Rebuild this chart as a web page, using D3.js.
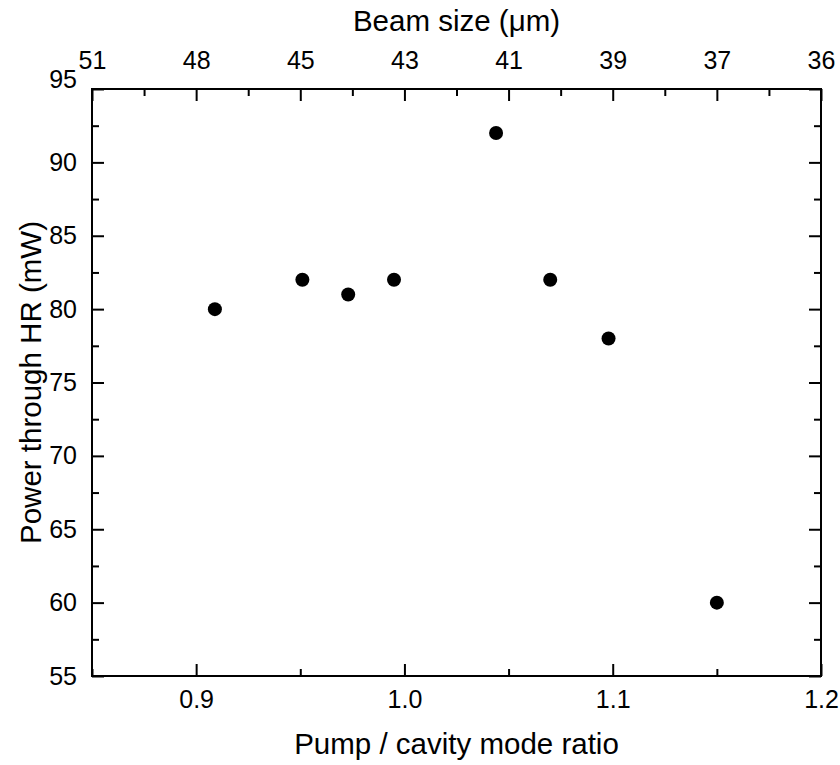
<!DOCTYPE html>
<html>
<head>
<meta charset="utf-8">
<script src="https://cdn.jsdelivr.net/npm/d3@7"></script>
<style>
  body { margin: 0; background: #fff; }
  svg text { font-family: "Liberation Sans", Arial, sans-serif; fill: #000; }
</style>
</head>
<body>
<svg id="chart"></svg>
<script>
// data
const ratio = [0.909, 0.951, 0.973, 0.995, 1.044, 1.070, 1.098, 1.150]
const power = [80, 82, 81, 82, 92, 82, 78, 60]

// bottom axis
const ratioTicks = [0.9, 1.0, 1.1, 1.2]
const ratioMinor = [0.85, 0.95, 1.05, 1.15]
// top axis (beam size, placed at ratio positions)
const beamPos = [0.85, 0.90, 0.95, 1.00, 1.05, 1.10, 1.15, 1.20]
const beamLabels = ["51", "48", "45", "43", "41", "39", "37", "36"]
const beamMinor = [0.875, 0.925, 0.975, 1.025, 1.075, 1.125, 1.175]
// left axis
const powerTicks = [55, 60, 65, 70, 75, 80, 85, 90, 95]
const powerMinor = [57.5, 62.5, 67.5, 72.5, 77.5, 82.5, 87.5, 92.5]

const W = 840, H = 765
const pL = 92, pR = 821, pT = 89, pB = 676

const svg = d3.select("#chart").attr("width", W).attr("height", H)

const x = d3.scaleLinear().domain([0.85, 1.2]).range([pL, pR])
const y = d3.scaleLinear().domain([55, 95]).range([pB, pT])

function styleAxis(g){
  g.select(".domain").remove()
  g.selectAll("line").attr("stroke", "#000").attr("stroke-width", 2)
  g.selectAll("text").attr("font-size", 25).attr("fill", "#000")
}

// bottom major + minor
svg.append("g").attr("transform", `translate(0,${pB})`)
  .call(d3.axisBottom(x).tickValues(ratioTicks).tickFormat(d3.format(".1f"))
    .tickSizeInner(-12).tickSizeOuter(0).tickPadding(14))
  .call(styleAxis)
svg.append("g").attr("transform", `translate(0,${pB})`)
  .call(d3.axisBottom(x).tickValues(ratioMinor).tickFormat("")
    .tickSizeInner(-7).tickSizeOuter(0))
  .call(styleAxis)

// top major + minor
svg.append("g").attr("transform", `translate(0,${pT})`)
  .call(d3.axisTop(x).tickValues(beamPos).tickFormat((d, i) => beamLabels[i])
    .tickSizeInner(-12).tickSizeOuter(0).tickPadding(20))
  .call(styleAxis)
svg.append("g").attr("transform", `translate(0,${pT})`)
  .call(d3.axisTop(x).tickValues(beamMinor).tickFormat("")
    .tickSizeInner(-7).tickSizeOuter(0))
  .call(styleAxis)

// left major + minor
const yAxisG = svg.append("g").attr("transform", `translate(${pL},0)`)
  .call(d3.axisLeft(y).tickValues(powerTicks).tickFormat(d3.format("d"))
    .tickSizeInner(-12).tickSizeOuter(0).tickPadding(15))
  .call(styleAxis)
// the top label sits a bit above its tick in the original
yAxisG.selectAll(".tick text").filter(d => d === 95).attr("dy", "-0.08em")
svg.append("g").attr("transform", `translate(${pL},0)`)
  .call(d3.axisLeft(y).tickValues(powerMinor).tickFormat("")
    .tickSizeInner(-7).tickSizeOuter(0))
  .call(styleAxis)

// right side ticks, no labels
svg.append("g").attr("transform", `translate(${pR},0)`)
  .call(d3.axisRight(y).tickValues(powerTicks).tickFormat("")
    .tickSizeInner(-12).tickSizeOuter(0))
  .call(styleAxis)
svg.append("g").attr("transform", `translate(${pR},0)`)
  .call(d3.axisRight(y).tickValues(powerMinor).tickFormat("")
    .tickSizeInner(-7).tickSizeOuter(0))
  .call(styleAxis)

// frame
svg.append("rect")
  .attr("x", pL).attr("y", pT)
  .attr("width", pR - pL).attr("height", pB - pT)
  .attr("fill", "none").attr("stroke", "#000").attr("stroke-width", 2)

// points
svg.append("g")
  .selectAll("circle")
  .data(ratio.map((r, i) => ({r: r, p: power[i]})))
  .enter().append("circle")
    .attr("cx", d => x(d.r))
    .attr("cy", d => y(d.p))
    .attr("r", 7)
    .attr("fill", "#000")

// titles
svg.append("text")
  .attr("x", (pL + pR) / 2).attr("y", 754)
  .attr("text-anchor", "middle").attr("font-size", 29.5)
  .text("Pump / cavity mode ratio")

svg.append("text")
  .attr("x", (pL + pR) / 2).attr("y", 31)
  .attr("text-anchor", "middle").attr("font-size", 29.5)
  .text("Beam size (\u03bcm)")

svg.append("text")
  .attr("transform", `translate(41,${(pT + pB) / 2}) rotate(-90)`)
  .attr("text-anchor", "middle").attr("font-size", 29.5)
  .text("Power through HR (mW)")
</script>
</body>
</html>
